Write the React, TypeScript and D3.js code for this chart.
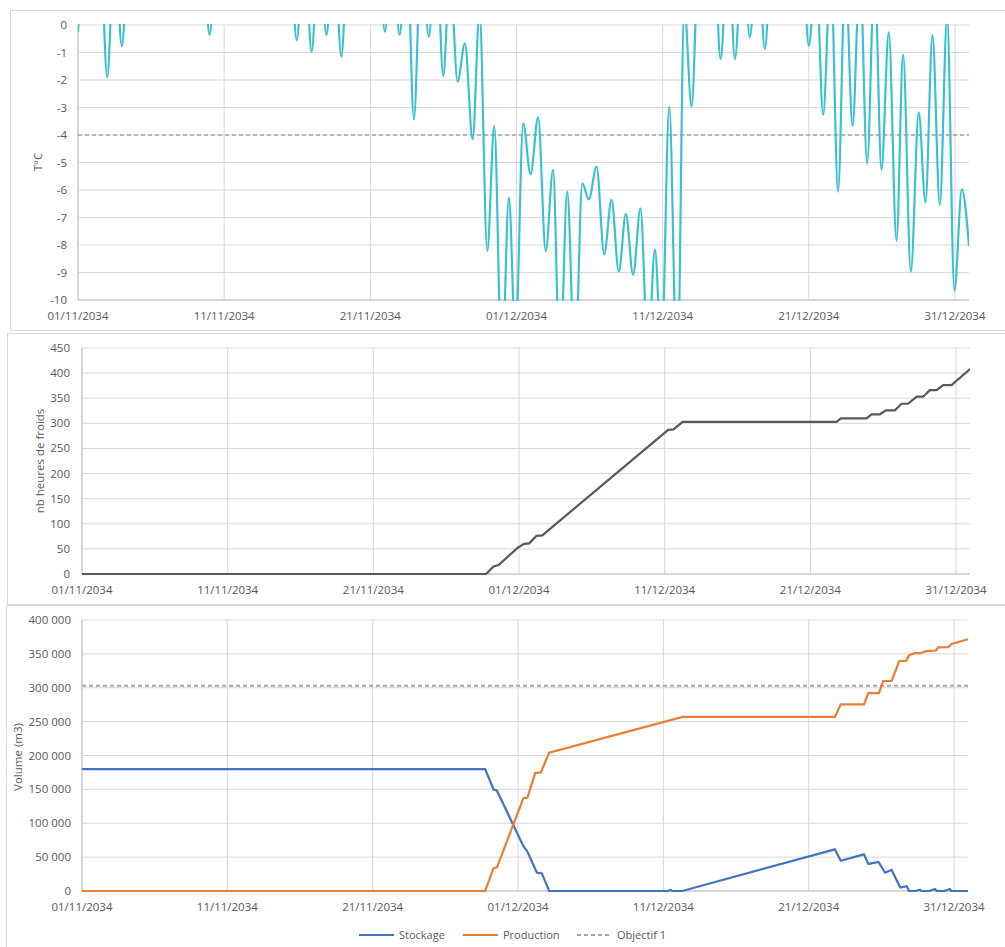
import React from "react";
import * as d3 from "d3";

// ---------- DATA ----------
const START = new Date(2034, 10, 1, 0);
const END = new Date(2034, 11, 31, 23);
const dateTicks = ["2034-11-01", "2034-11-11", "2034-11-21", "2034-12-01", "2034-12-11", "2034-12-21", "2034-12-31"];

// temperature extrema: [days since 01/11/2034 00:00, °C]
const temperature: [number, number][] = [
  [0, -0.25], [0.5, 3], [1.5, 3], [2.0, -1.9], [2.5, 3], [3.0, -0.77], [3.5, 3],
  [8.5, 3], [9.0, -0.36], [9.5, 3],
  [14.5, 3], [14.96, -0.55], [15.5, 3], [15.98, -0.97], [16.5, 3], [17.0, -0.36], [17.5, 3], [18.02, -1.15], [18.5, 3],
  [20.5, 3], [21.0, -0.24], [21.5, 3], [22.0, -0.36], [22.5, 3], [22.98, -3.43], [23.5, 3], [24.0, -0.42], [24.5, 3],
  [24.99, -1.85], [25.45, 2], [25.97, -2.06], [26.47, -0.67], [27.0, -4.15], [27.47, 0.5],
  [28.0, -8.22], [28.48, -3.67], [29.0, -12.5], [29.48, -6.28], [29.93, -11.5], [30.46, -3.58],
  [30.96, -5.43], [31.48, -3.36], [32.0, -8.22], [32.5, -5.27], [32.97, -12.5], [33.47, -6.06],
  [34.0, -12.5], [34.5, -5.76], [34.95, -6.34], [35.48, -5.15], [36.0, -8.34], [36.5, -6.36],
  [37.0, -8.97], [37.48, -6.87], [37.98, -9.09], [38.48, -6.67], [39.0, -12], [39.47, -8.16],
  [39.92, -12], [40.45, -2.97], [41.0, -13], [41.48, 0.7], [41.98, -2.97], [42.5, 3],
  [43.5, 3], [43.96, -1.24], [44.5, 3], [44.94, -1.24], [45.5, 3], [45.96, -0.45], [46.5, 3], [46.99, -0.87], [47.5, 3],
  [49.5, 3], [50.0, -0.75], [50.5, 2], [50.98, -3.27], [51.5, 2], [52.0, -6.06], [52.5, 2], [52.99, -3.67],
  [53.5, 2], [53.99, -5.05], [54.5, 2], [54.97, -5.27], [55.47, -0.27], [56.0, -7.85], [56.45, -1.07],
  [56.98, -8.97], [57.52, -3.18], [57.98, -6.46], [58.46, -0.36], [58.96, -6.55], [59.46, 0.3],
  [59.96, -9.66], [60.47, -5.98], [60.958, -8.04],
];
const tempThreshold = -4;
const tempTicks = [0, -1, -2, -3, -4, -5, -6, -7, -8, -9, -10];

// cumulative cold hours: [days, hours]
const coldHours: [number, number][] = [
  [0, 0], [27.73, 0], [28.25, 15], [28.6, 18], [29.9, 52], [30.35, 60], [30.7, 61], [31.2, 76], [31.6, 77],
  [40.24, 287], [40.6, 288], [41.23, 303], [51.8, 303], [52.1, 310], [53.86, 310], [54.2, 318], [54.77, 318],
  [55.2, 326], [55.8, 326], [56.26, 339], [56.7, 339], [57.3, 353], [57.74, 353], [58.2, 366], [58.66, 366],
  [59.12, 376], [59.69, 376], [60.958, 408],
];
const coldTicks = [0, 50, 100, 150, 200, 250, 300, 350, 400, 450];

// volumes: [days, m3]
const stockage: [number, number][] = [
  [0, 180000], [27.74, 180000], [28.31, 150000], [28.55, 148000], [30.37, 66000], [30.65, 58000],
  [31.3, 27000], [31.64, 26000], [32.14, 0], [40.3, 0], [40.5, 1500], [40.6, 0], [41.3, 0],
  [51.8, 61500], [52.2, 44700], [53.8, 54000], [54.1, 40000], [54.8, 43000], [55.25, 27000],
  [55.7, 31000], [56.3, 5000], [56.74, 7000], [56.9, 0], [57.35, 0], [57.65, 2000], [57.75, 0],
  [58.3, 0], [58.69, 3000], [58.8, 0], [59.3, 0], [59.72, 3000], [59.8, 0], [60.958, 0],
];
const production: [number, number][] = [
  [0, 0], [27.74, 0], [28.31, 33500], [28.55, 35000], [30.37, 137000], [30.65, 138000],
  [31.18, 174000], [31.57, 175000], [32.14, 204000], [41.33, 257000], [51.8, 257000], [52.2, 275500],
  [53.8, 275500], [54.1, 292000], [54.83, 292000], [55.13, 310000], [55.7, 310000], [56.23, 339500],
  [56.7, 339500], [56.9, 348000], [57.3, 351000], [57.7, 351000], [58.07, 354000], [58.75, 355000],
  [58.9, 359500], [59.6, 360000], [59.83, 364500], [60.958, 371500],
];
const objectif1 = 303000;
const volumeTicks = [0, 50000, 100000, 150000, 200000, 250000, 300000, 350000, 400000];
const legendItems = ["Stockage", "Production", "Objectif 1"];

// ---------- HELPERS ----------
const FONT = "'Open Sans', 'Liberation Sans', sans-serif";
const TXT = "#595959";
const GRID = "#D9D9D9";
const AXIS = "#BFBFBF";
const toDate = (d: number) => new Date(START.getTime() + d * 864e5);
const fmtDate = d3.timeFormat("%d/%m/%Y");
const fmtVol = (v: number) => d3.format(",")(v).replace(/,/g, " ");

type Box = { x0: number; x1: number; y0: number; y1: number };

function Frame({ x, y, w, h }: { x: number; y: number; w: number; h: number }) {
  return <rect x={x} y={y} width={w} height={h} fill="#fff" stroke={GRID} strokeWidth={1} />;
}

function Axes({
  box, y, ticks, fmt, labelX, xLabelY, title, titleX, titleY, id,
}: {
  box: Box; y: d3.ScaleLinear<number, number>; ticks: number[]; fmt: (v: number) => string;
  labelX: number; xLabelY: number; title: string; titleX: number; titleY: number; id: string;
}) {
  const x = d3.scaleTime().domain([START, END]).range([box.x0, box.x1]);
  const dt = dateTicks.map((s) => d3.timeParse("%Y-%m-%d")(s)!);
  return (
    <g>
      {ticks.map((t) => (
        <line key={"h" + t} x1={box.x0} x2={box.x1} y1={y(t)} y2={y(t)} stroke={GRID} strokeWidth={1} />
      ))}
      {dt.map((d, i) => (
        <line key={"v" + i} x1={x(d)} x2={x(d)} y1={box.y0} y2={box.y1} stroke={GRID} strokeWidth={1} />
      ))}
      <line x1={box.x0} x2={box.x0} y1={box.y0} y2={box.y1} stroke={AXIS} strokeWidth={1} />
      <line x1={box.x0} x2={box.x1} y1={box.y1} y2={box.y1} stroke={AXIS} strokeWidth={1} />
      {ticks.map((t) => (
        <text key={"yl" + t} x={labelX} y={y(t)} dy="0.35em" textAnchor="end" fontSize={11.5} fill={TXT} fontFamily={FONT}>
          {fmt(t)}
        </text>
      ))}
      {dt.map((d, i) => (
        <text key={"xl" + i} x={x(d)} y={xLabelY} dy="0.35em" textAnchor="middle" fontSize={11.5} fill={TXT} fontFamily={FONT}>
          {fmtDate(d)}
        </text>
      ))}
      <text transform={`translate(${titleX},${titleY}) rotate(-90)`} textAnchor="middle" dy="0.35em" fontSize={11.5} fill={TXT} fontFamily={FONT}>
        {title}
      </text>
      <clipPath id={id}>
        <rect x={box.x0} y={box.y0 - 1} width={box.x1 - box.x0} height={box.y1 - box.y0 + 2} />
      </clipPath>
    </g>
  );
}

export default function App() {
  // chart 1
  const b1: Box = { x0: 78, x1: 969, y0: 25, y1: 300 };
  const x1 = d3.scaleTime().domain([START, END]).range([b1.x0, b1.x1]);
  const y1 = d3.scaleLinear().domain([-10, 0]).range([b1.y1, b1.y0]);
  const tempLine = d3.line<[number, number]>().x((d) => x1(toDate(d[0]))).y((d) => y1(d[1])).curve(d3.curveMonotoneX);

  // chart 2
  const b2: Box = { x0: 82, x1: 970, y0: 348, y1: 574 };
  const x2 = d3.scaleTime().domain([START, END]).range([b2.x0, b2.x1]);
  const y2 = d3.scaleLinear().domain([0, 450]).range([b2.y1, b2.y0]);
  const coldLine = d3.line<[number, number]>().x((d) => x2(toDate(d[0]))).y((d) => y2(d[1]));

  // chart 3
  const b3: Box = { x0: 82, x1: 968, y0: 620, y1: 891 };
  const x3 = d3.scaleTime().domain([START, END]).range([b3.x0, b3.x1]);
  const y3 = d3.scaleLinear().domain([0, 400000]).range([b3.y1, b3.y0]);
  const volLine = d3.line<[number, number]>().x((d) => x3(toDate(d[0]))).y((d) => y3(d[1]));

  const legendColors = ["#4472C4", "#ED7D31", "#A5A5A5"];
  const legendX = [359, 463, 577];

  return (
    <svg width={1005} height={947} style={{ position: "absolute", left: 0, top: 0, background: "#fff" }}>
      <Frame x={10.5} y={10.5} w={1000} h={320} />
      <Frame x={7.5} y={333.5} w={1000} h={271} />
      <Frame x={6.5} y={605.5} w={1000} h={400} />

      {/* Chart 1 : temperature */}
      <Axes box={b1} y={y1} ticks={tempTicks} fmt={(v) => String(v)} labelX={67} xLabelY={316}
        title="T°C" titleX={38} titleY={162} id="c1" />
      <line x1={b1.x0} x2={b1.x1} y1={y1(tempThreshold)} y2={y1(tempThreshold)} stroke="#A5A5A5" strokeWidth={1.5} strokeDasharray="4,3" />
      <path d={tempLine(temperature)!} fill="none" stroke="#3CC0D0" strokeWidth={2.2} clipPath="url(#c1)" />

      {/* Chart 2 : cold hours */}
      <Axes box={b2} y={y2} ticks={coldTicks} fmt={(v) => String(v)} labelX={70} xLabelY={590}
        title="nb heures de froids" titleX={40} titleY={461} id="c2" />
      <path d={coldLine(coldHours)!} fill="none" stroke="#595959" strokeWidth={2.2} clipPath="url(#c2)" />

      {/* Chart 3 : volumes */}
      <Axes box={b3} y={y3} ticks={volumeTicks} fmt={fmtVol} labelX={71} xLabelY={907}
        title="Volume (m3)" titleX={18} titleY={757} id="c3" />
      <line x1={b3.x0} x2={b3.x1} y1={y3(objectif1)} y2={y3(objectif1)} stroke="#A5A5A5" strokeWidth={2} strokeDasharray="4,3" />
      <path d={volLine(stockage)!} fill="none" stroke="#4472C4" strokeWidth={2.2} />
      <path d={volLine(production)!} fill="none" stroke="#ED7D31" strokeWidth={2.2} />

      {/* Legend */}
      {legendItems.map((name, i) => (
        <g key={name}>
          <line x1={legendX[i]} x2={legendX[i] + 35} y1={935} y2={935} stroke={legendColors[i]} strokeWidth={2.2}
            strokeDasharray={i === 2 ? "4,3" : undefined} />
          <text x={legendX[i] + 40} y={935} dy="0.35em" fontSize={11} fill={TXT} fontFamily={FONT}>{name}</text>
        </g>
      ))}
    </svg>
  );
}
